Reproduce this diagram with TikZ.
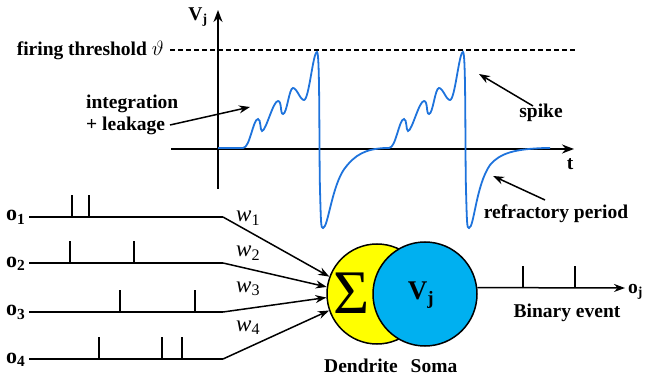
\documentclass[tikz,border=0pt]{standalone}
\usepackage{fontspec}
\setmainfont{Liberation Serif}
\usetikzlibrary{arrows.meta}
\definecolor{curveblue}{RGB}{30,115,220}
\definecolor{somablue}{RGB}{0,176,240}
\definecolor{dendyellow}{RGB}{255,255,0}
\begin{document}
\begin{tikzpicture}[x=1pt,y=-1pt,
  lbl/.style={font=\fontsize{19.5}{22}\selectfont\bfseries, inner sep=0pt},
  olbl/.style={font=\fontsize{22}{24}\selectfont\bfseries, inner sep=0pt},
  wlbl/.style={font=\fontsize{23}{24}\selectfont\itshape, inner sep=0pt},
  axis/.style={line width=1.8pt, -{Stealth[length=12pt,width=9pt]}},
  arr/.style={line width=1.5pt, -{Stealth[length=11pt,width=8pt]}},
  wire/.style={line width=1.6pt},
  vm/.style={line width=1.8pt, curveblue},
  cell/.style={circle, draw, line width=1.5pt, inner sep=0pt}]
\useasboundingbox (0,0) rectangle (646,377);

% axes
\coordinate (vbot) at (218,189); \coordinate (vtop) at (218,10);
\draw[axis] (vbot) -- (vtop);
\coordinate (hl) at (171,149); \coordinate (hr) at (574,149);
\draw[axis] (hl) -- (hr);
\node[lbl] (vlab) at (198,17) {V\textsubscript{j}};
\node[lbl] (tlab) at (570,164) {t};

% threshold
\coordinate (thl) at (170,50); \coordinate (thr) at (575,50);
\draw[line width=1.2pt, dash pattern=on 5pt off 3pt] (thl) -- (thr);
\node[lbl, anchor=east] (thlab) at (164,50) {firing threshold $\vartheta$};

% membrane potential
\draw[vm] (218,148) -- (243,148)
  .. controls (250,148) and (253,119) .. (258,119)
  .. controls (261,119) and (260,131) .. (262,131)
  .. controls (266,131) and (273,101) .. (278,101)
  .. controls (282,101) and (280,114) .. (283,114)
  .. controls (287,114) and (289,88) .. (293,88)
  .. controls (297,88) and (300,100) .. (304,100)
  .. controls (309,100) and (313,52) .. (317,52)
  .. controls (320,52) and (319,150) .. (320,190)
  .. controls (321,225) and (321,228) .. (323,228)
  .. controls (328,228) and (332,185) .. (345,168)
  .. controls (355,155) and (365,149) .. (385,148) -- (389,148)
  .. controls (396,148) and (399,119) .. (404,119)
  .. controls (407,119) and (406,131) .. (408,131)
  .. controls (412,131) and (419,101) .. (424,101)
  .. controls (428,101) and (426,114) .. (429,114)
  .. controls (433,114) and (435,88) .. (439,88)
  .. controls (443,88) and (446,100) .. (450,100)
  .. controls (455,100) and (459,52) .. (463,52)
  .. controls (466,52) and (465,150) .. (466,190)
  .. controls (467,225) and (467,228) .. (469,228)
  .. controls (474,228) and (476,185) .. (490,165)
  .. controls (500,153) and (515,149) .. (545,148) -- (550,148);

% annotations
\node[lbl, align=left, anchor=west] (integ) at (86,115) {integration\\+ leakage};
\coordinate (intail) at (170,125); \coordinate (inhead) at (250,107);
\draw[arr] (intail) -- (inhead);
\node[lbl] (spk) at (541,113) {spike};
\coordinate (sptail) at (533,106); \coordinate (sphead) at (479,74);
\draw[arr] (sptail) -- (sphead);
\node[lbl] (refr) at (556,214) {refractory period};
\coordinate (rftail) at (545,200); \coordinate (rfhead) at (493,176);
\draw[arr] (rftail) -- (rfhead);

% neuron
\node[cell, fill=dendyellow, minimum size=100pt] (dend) at (377,294) {};
\node[cell, fill=somablue, minimum size=104pt] (soma) at (425,294) {};
\node[font=\fontsize{62}{64}\selectfont, inner sep=0pt] (sig) at (352,293) {Σ};
\node[font=\fontsize{27}{30}\selectfont\bfseries, inner sep=0pt] (vj) at (421,295) {V\textsubscript{j}};
\node[lbl] (dlab) at (361,366) {Dendrite};
\node[lbl] (slab) at (434,366) {Soma};

% inputs
\foreach \i/\y/\ang in {1/217/160, 2/263/172, 3/312/184, 4/359/199}{
  \node[olbl, anchor=base west] (o\i) at (6,\y+4) {o\textsubscript{\i}};
  \coordinate (s\i) at (29,\y);
  \coordinate (e\i) at (223,\y);
  \draw[wire] (s\i) -- (e\i);
  \draw[arr] (e\i) -- (dend.\ang);
}
\node[wlbl, anchor=base west] (w1) at (236,222) {w\textsubscript{\upshape 1}};
\node[wlbl, anchor=base west] (w2) at (236,257) {w\textsubscript{\upshape 2}};
\node[wlbl, anchor=base west] (w3) at (236,292) {w\textsubscript{\upshape 3}};
\node[wlbl, anchor=base west] (w4) at (236,331) {w\textsubscript{\upshape 4}};

% input spikes
\foreach \x/\y in {72/217, 89/217, 70/263, 134/263, 120/312, 195/312, 99/359, 162/359, 182/359}{
  \draw[wire] (\x,\y) -- (\x,\y-22);
}

% output
\coordinate (oend) at (625,288);
\draw[arr] (soma.7) -- (oend);
\node[lbl, anchor=base west] (oj) at (628,293) {o\textsubscript{j}};
\foreach \x in {523,575}{ \draw[wire] (\x,288) -- (\x,266); }
\node[lbl] (bev) at (567,313) {Binary event};
\end{tikzpicture}
\end{document}
